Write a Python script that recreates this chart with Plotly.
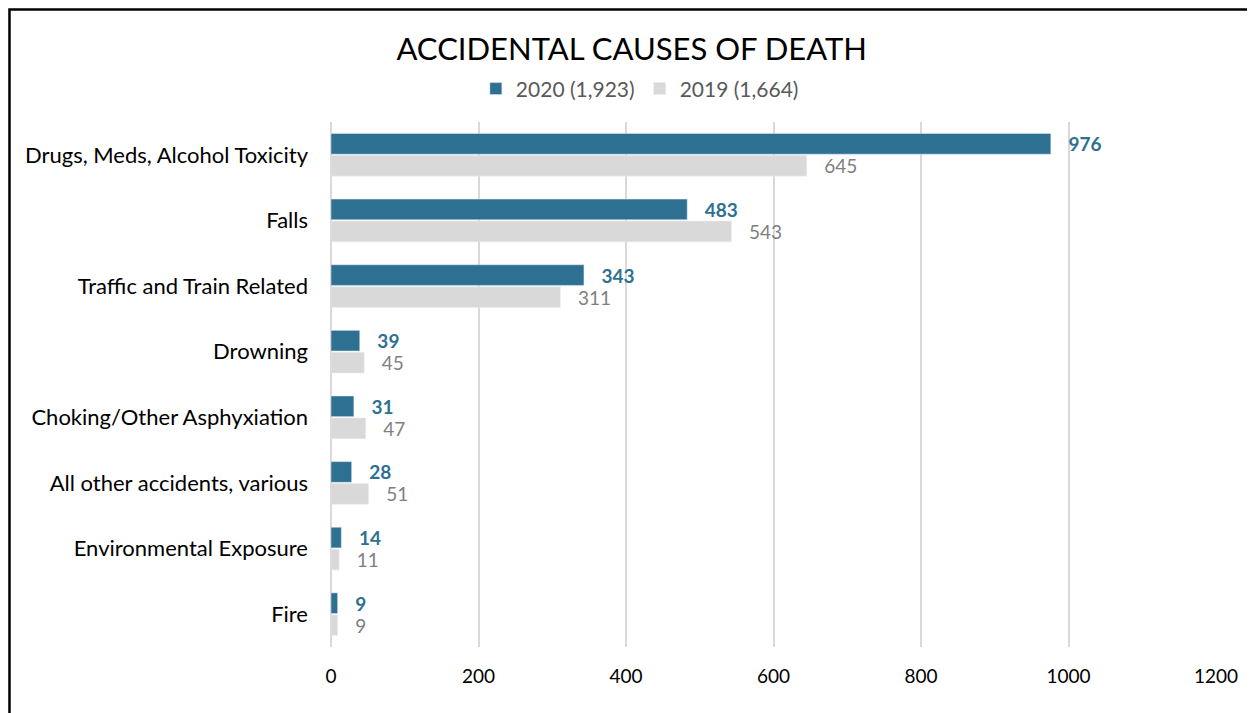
import plotly.graph_objects as go

categories = ["Drugs, Meds, Alcohol Toxicity", "Falls", "Traffic and Train Related",
              "Drowning", "Choking/Other Asphyxiation", "All other accidents, various",
              "Environmental Exposure", "Fire"]
values_2020 = [976, 483, 343, 39, 31, 28, 14, 9]
values_2019 = [645, 543, 311, 45, 47, 51, 11, 9]
series_names = ["2020 (1,923)", "2019 (1,664)"]
x_ticks = [0, 200, 400, 600, 800, 1000, 1200]

FONT = "Lato"
BLUE = "#2E7092"
GREY = "#D9D9D9"

fig = go.Figure()
fig.add_trace(go.Bar(
    y=categories, x=values_2020, orientation="h", name=series_names[0],
    marker=dict(color=BLUE),
    texttemplate="\u00a0\u00a0\u00a0<b>%{x}</b>", textposition="outside", constraintext="none",
    textfont=dict(family=FONT, size=19, color=BLUE), cliponaxis=False,
))
fig.add_trace(go.Bar(
    y=categories, x=values_2019, orientation="h", name=series_names[1],
    marker=dict(color=GREY),
    texttemplate="\u00a0\u00a0\u00a0%{x}", textposition="outside", constraintext="none",
    textfont=dict(family=FONT, size=19, color="#7F7F7F"), cliponaxis=False,
))

fig.update_layout(
    width=1255, height=713,
    margin=dict(l=323, r=47, t=114, b=74),
    paper_bgcolor="white", plot_bgcolor="white",
    barmode="group", bargap=0.33, bargroupgap=0.06,
    font=dict(family=FONT, color="black"),
    title=dict(text="ACCIDENTAL CAUSES OF DEATH", x=0.497, xanchor="center",
               y=0.9425, yanchor="middle",
               font=dict(family=FONT, size=31, color="black")),
    legend=dict(orientation="h", x=0.349, xanchor="center", y=1.063, yanchor="middle",
                font=dict(family=FONT, size=21, color="#595959"),
                itemclick=False, traceorder="normal"),
    showlegend=True,
)
fig.update_xaxes(
    range=[0, 1200], tickvals=x_ticks, showgrid=True, gridcolor=GREY, gridwidth=2,
    zeroline=True, zerolinecolor=GREY, zerolinewidth=2, showline=False,
    tickfont=dict(family=FONT, size=19, color="black"), ticklabelstandoff=16,
)
fig.update_yaxes(
    autorange="reversed", showgrid=False, showline=False, zeroline=False,
    tickfont=dict(family=FONT, size=22, color="black"), ticklabelstandoff=22,
)
fig.add_shape(type="rect", xref="paper", yref="paper",
              x0=-0.3633, x1=1.1, y0=-0.3, y1=1.2143,
              line=dict(color="black", width=2.5), fillcolor="rgba(0,0,0,0)", layer="above")

fig.write_html("out.html")
